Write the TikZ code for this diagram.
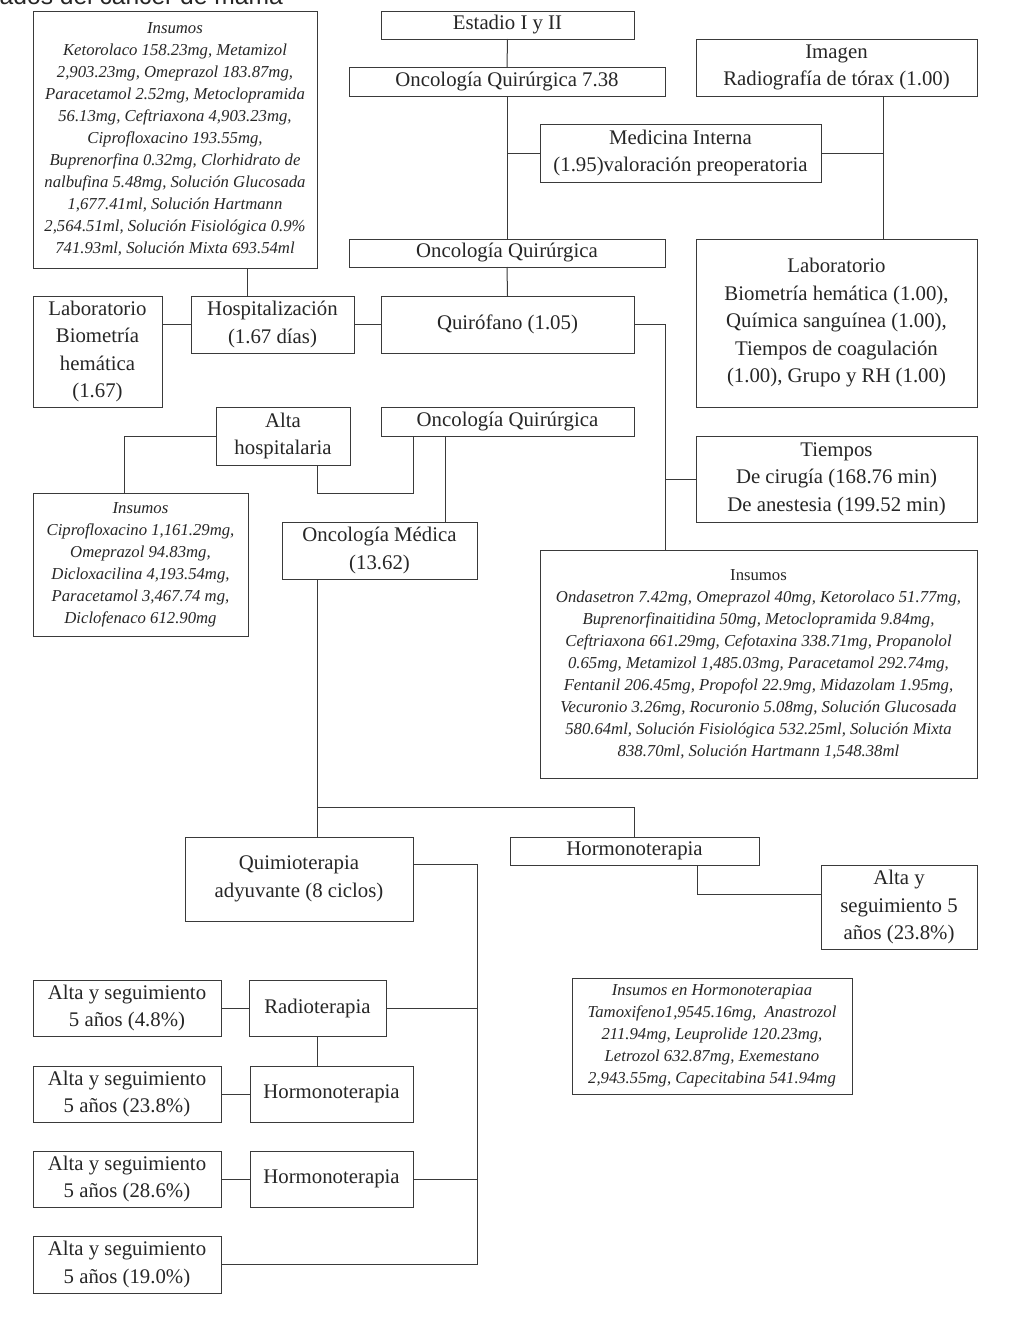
\documentclass[tikz,border=0pt]{standalone}
\usepackage{fontspec}
\setmainfont{Liberation Serif}
\newfontfamily\titlefont{Liberation Sans}
\definecolor{linec}{HTML}{3A3A3A}
\definecolor{txtc}{HTML}{262626}
\newcommand\mainfs{\fontsize{20.8}{27.5}\selectfont}
\newcommand\itfs{\fontsize{16.7}{22}\selectfont\itshape}
\tikzset{
  box/.style={draw=linec, line width=1pt, inner sep=0pt, outer sep=0pt, align=center, text=txtc, font=\mainfs},
  ibox/.style={box, font=\itfs},
  conn/.style={draw=linec, line width=1pt},
}
\newcommand\bx[7][box]{\node[#1, minimum width={(#5-#3)*1pt}, minimum height={(#6-#4)*1pt}] (#2) at ({(#3+#5)/2},{(#4+#6)/2}) {#7};}
\begin{document}
\begin{tikzpicture}[x=1pt,y=-1pt]
\useasboundingbox (0,0) rectangle (1014,1318);
\fill[white] (0,0) rectangle (1014,1318);
% clipped title fragment (only its lower part is inside the page, as in the reference)
\node[anchor=base east, inner sep=0pt, text=txtc, font=\titlefont\fontsize{24.6}{28}\selectfont] (title) at (283,4.5) {ados del cáncer de mama};

\bx[ibox]{ins1}{33}{11}{317}{268}{Insumos\\Ketorolaco 158.23mg, Metamizol\\2,903.23mg, Omeprazol 183.87mg,\\Paracetamol 2.52mg, Metoclopramida\\56.13mg, Ceftriaxona 4,903.23mg,\\Ciprofloxacino 193.55mg,\\Buprenorfina 0.32mg, Clorhidrato de\\nalbufina 5.48mg, Solución Glucosada\\1,677.41ml, Solución Hartmann\\2,564.51ml, Solución Fisiológica 0.9\%\\741.93ml, Solución Mixta 693.54ml}
\bx{est}{381}{11}{634}{39}{Estadio I y II}
\bx{oq1}{349}{67}{665}{96}{Oncología Quirúrgica 7.38}
\bx{img}{696}{39}{977}{96}{Imagen\\Radiografía de tórax (1.00)}
\bx{mi}{540}{124}{821}{182}{Medicina Interna\\(1.95)valoración preoperatoria}
\bx{oq2}{349}{239}{665}{267}{Oncología Quirúrgica}
\bx{labr}{696}{239}{977}{407}{Laboratorio\\Biometría hemática (1.00),\\Química sanguínea (1.00),\\Tiempos de coagulación\\(1.00), Grupo y RH (1.00)}
\bx{labl}{33}{296}{162}{407}{Laboratorio\\Biometría\\hemática\\(1.67)}
\bx{hosp}{191}{296}{354}{353}{Hospitalización\\(1.67 días)}
\bx{quir}{381}{296}{634}{353}{Quirófano (1.05)}
\bx{alta}{216}{407}{350}{465}{Alta\\hospitalaria}
\bx{oq3}{381}{407}{634}{436}{Oncología Quirúrgica}
\bx{tiem}{696}{436}{977}{522}{Tiempos\\De cirugía (168.76 min)\\De anestesia (199.52 min)}
\bx[ibox]{ins2}{33}{493}{248}{636}{Insumos\\Ciprofloxacino 1,161.29mg,\\Omeprazol 94.83mg,\\Dicloxacilina 4,193.54mg,\\Paracetamol 3,467.74 mg,\\Diclofenaco 612.90mg}
\bx{om}{282}{522}{477}{579}{Oncología Médica\\(13.62)}
\bx[ibox]{ins3}{540}{550}{977}{778}{{\upshape Insumos}\\Ondasetron 7.42mg, Omeprazol 40mg, Ketorolaco 51.77mg,\\Buprenorfinaitidina 50mg, Metoclopramida 9.84mg,\\Ceftriaxona 661.29mg, Cefotaxina 338.71mg, Propanolol\\0.65mg, Metamizol 1,485.03mg, Paracetamol 292.74mg,\\Fentanil 206.45mg, Propofol 22.9mg, Midazolam 1.95mg,\\Vecuronio 3.26mg, Rocuronio 5.08mg, Solución Glucosada\\580.64ml, Solución Fisiológica 532.25ml, Solución Mixta\\838.70ml, Solución Hartmann 1,548.38ml}
\bx{quim}{185}{837}{413}{921}{Quimioterapia\\adyuvante (8 ciclos)}
\bx{horm}{510}{837}{759}{865}{Hormonoterapia}
\bx{altar}{821}{865}{977}{949}{Alta y\\seguimiento 5\\años (23.8\%)}
\bx[ibox]{ins4}{572}{978}{852}{1094}{Insumos en Hormonoterapiaa\\Tamoxifeno1,9545.16mg,\ \ Anastrozol\\211.94mg, Leuprolide 120.23mg,\\Letrozol 632.87mg, Exemestano\\2,943.55mg, Capecitabina 541.94mg}
\bx{a1}{33}{980}{221}{1036}{Alta y seguimiento\\5 años (4.8\%)}
\bx{radio}{249}{980}{386}{1036}{Radioterapia}
\bx{a2}{33}{1066}{221}{1122}{Alta y seguimiento\\5 años (23.8\%)}
\bx{h1}{250}{1066}{413}{1122}{Hormonoterapia}
\bx{a3}{33}{1151}{221}{1207}{Alta y seguimiento\\5 años (28.6\%)}
\bx{h2}{250}{1151}{413}{1207}{Hormonoterapia}
\bx{a4}{33}{1236}{221}{1293}{Alta y seguimiento\\5 años (19.0\%)}

% helper coordinates
\coordinate (cx247) at (247,0);
\coordinate (cx883) at (883,0);
\coordinate (cx665) at (665,0);
\coordinate (cx124) at (124,0);
\coordinate (cx317) at (317,0);
\coordinate (cx413) at (413,0);
\coordinate (cx445) at (445,0);
\coordinate (cx697) at (697,0);
\coordinate (cx477) at (477,0);
\coordinate (cy807) at (0,807);
\coordinate (cy894) at (0,894);
\coordinate (cy493) at (0,493);
\coordinate (cy864) at (0,864);

% top chain
\draw[conn] (est.south) -- (oq1.north);
\draw[conn] (oq1.south) -- (oq2.north);
\draw[conn] (mi.west) -- (mi.west -| oq1.south);
\draw[conn] (img.south -| cx883) -- (labr.north -| cx883);
\draw[conn] (mi.east) -- (mi.east -| cx883);
\draw[conn] (oq2.south) -- (quir.north);
% hospital
\draw[conn] (quir.west) -- (hosp.east);
\draw[conn] (hosp.west) -- (hosp.west -| labl.east);
\draw[conn] (ins1.south -| cx247) -- (hosp.north -| cx247);
% quirofano branch
\draw[conn] (quir.east) -- (quir.east -| cx665) -- (ins3.north -| cx665);
\draw[conn] (tiem.west) -- (tiem.west -| cx665);
% alta hospitalaria
\draw[conn] (alta.west) -- (alta.west -| cx124) -- (ins2.north -| cx124);
\draw[conn] (alta.south -| cx317) -- (cx317 |- cy493) -- (cx413 |- cy493) -- (oq3.south -| cx413);
\draw[conn] (oq3.south -| cx445) -- (om.north -| cx445);
% oncologia medica
\draw[conn] (om.south -| cx317) -- (quim.north -| cx317);
\draw[conn] (cx317 |- cy807) -- (horm.north |- cy807) -- (horm.north);
\draw[conn] (horm.south -| cx697) -- (cx697 |- cy894) -- (altar.west |- cy894);
% quimio tree
\draw[conn] (quim.east |- cy864) -- (cx477 |- cy864) -- (cx477 |- a4.east) -- (a4.east);
\draw[conn] (radio.east) -- (radio.east -| cx477);
\draw[conn] (h2.east) -- (h2.east -| cx477);
\draw[conn] (a1.east) -- (radio.west);
\draw[conn] (a2.east) -- (h1.west);
\draw[conn] (a3.east) -- (h2.west);
\draw[conn] (radio.south -| cx317) -- (h1.north -| cx317);
\end{tikzpicture}
\end{document}
